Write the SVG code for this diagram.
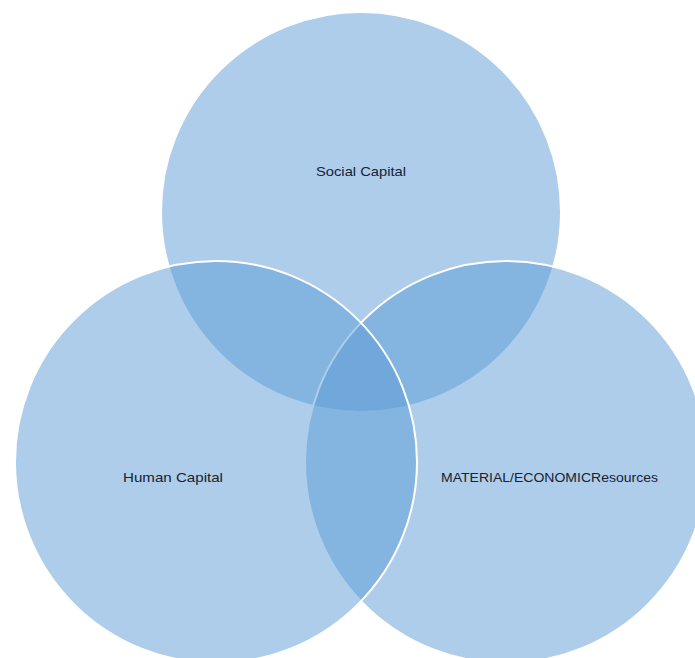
<svg xmlns="http://www.w3.org/2000/svg" width="695" height="658" viewBox="0 0 695 658">
<style>
.c{fill:#5B9BD5;fill-opacity:0.5;stroke:#ffffff;stroke-width:2}
.t{font-family:"Liberation Sans","Open Sans",sans-serif;font-size:13px;fill:#1a2230;text-anchor:middle}
</style>
<rect width="695" height="658" fill="#ffffff"/>
<g id="social">
<circle class="c" cx="361" cy="212" r="200"/>
<text class="t" x="361" y="176" textLength="90" lengthAdjust="spacingAndGlyphs">Social Capital</text>
</g>
<g id="material">
<circle class="c" cx="506" cy="462" r="201"/>
<text class="t" x="549.5" y="482" textLength="217" lengthAdjust="spacingAndGlyphs">MATERIAL/ECONOMICResources</text>
</g>
<g id="human">
<circle class="c" cx="216" cy="462" r="201"/>
<text class="t" x="173" y="482" textLength="100" lengthAdjust="spacingAndGlyphs">Human Capital</text>
</g>
<g id="connectors"></g>
</svg>
